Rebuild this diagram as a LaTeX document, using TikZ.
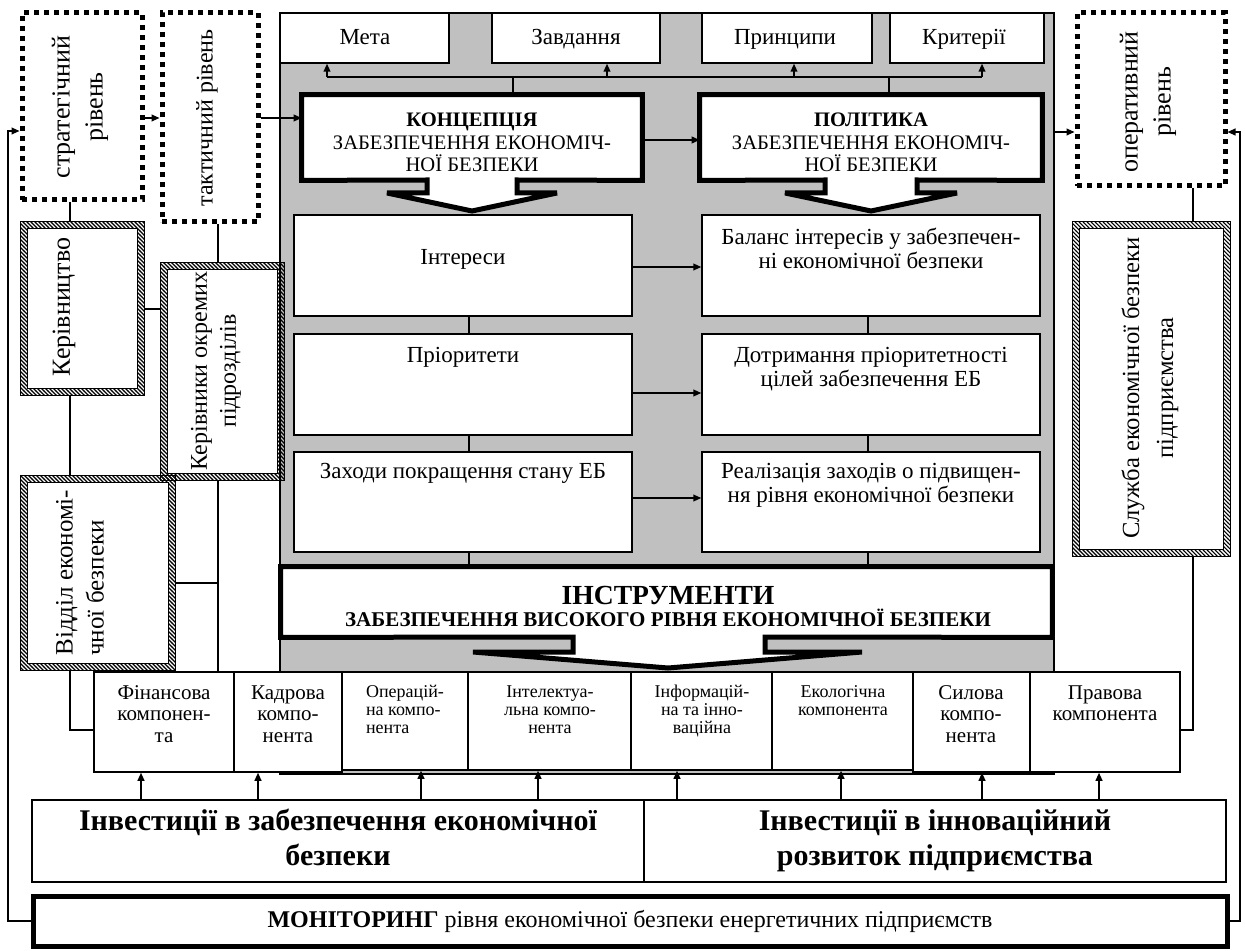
\documentclass[tikz,border=0pt]{standalone}
\usepackage{fontspec}
\setmainfont{Liberation Serif}
\usetikzlibrary{arrows.meta,patterns,fit,calc}
\definecolor{panelgray}{RGB}{192,192,192}
\pgfdeclarepatternformonly{hatchnw}{\pgfqpoint{-1pt}{-1pt}}{\pgfqpoint{3pt}{3pt}}{\pgfqpoint{2pt}{2pt}}{%
  \pgfsetlinewidth{0.55pt}%
  \pgfpathmoveto{\pgfqpoint{0pt}{2pt}}%
  \pgfpathlineto{\pgfqpoint{2.1pt}{-0.1pt}}%
  \pgfusepath{stroke}}
\newcommand{\fsz}[2]{\fontsize{#1}{#2}\selectfont}
\begin{document}
\begin{tikzpicture}[x=0.5pt,y=-0.5pt,
  panel/.style={draw,line width=1.2pt,fill=panelgray,inner sep=0pt},
  wbox/.style={draw,line width=0.75pt,fill=white,inner sep=0pt},
  dotbox/.style={draw,line width=2.5pt,dash pattern=on 2.5pt off 2.5pt,fill=white,inner sep=0pt},
  hatchbox/.style={draw,line width=0.5pt,pattern=hatchnw,inner sep=0pt},
  innerbox/.style={draw,line width=0.5pt,fill=white,inner sep=0pt},
  area/.style={inner sep=0pt},
  heavy/.style={draw,line width=2.5pt,fill=white,line join=miter,miter limit=3},
  ln/.style={line width=0.75pt},
  arr/.style={line width=0.75pt,-{Triangle[length=4pt,width=3.4pt]}},
  toptxt/.style={inner sep=0pt,anchor=base,font=\fsz{11.5}{12}},
  itxt/.style={inner sep=0pt,align=center,anchor=north,font=\fsz{11.5}{12}},
  ctxt/.style={inner sep=0pt,align=center,anchor=north,font=\fsz{10.5}{10.75}},
  stxt/.style={inner sep=0pt,align=center,anchor=north,font=\fsz{9}{9}},
  rtxt/.style={inner sep=0pt,align=center,rotate=90,font=\fsz{12}{16}},
]
\useasboundingbox[fill=white] (0,0) rectangle (1245,951);

% ---------- grey panel ----------
\node[panel,fit={(280,13)(1054,774)}] (panel) {};

% ---------- top boxes ----------
\node[wbox,fit={(280,13)(449,63)}] (meta) {};
\node[toptxt] (meta-t) at (365,45) {Мета};
\node[wbox,fit={(492,13)(660,63)}] (zavd) {};
\node[toptxt] (zavd-t) at (576,45) {Завдання};
\node[wbox,fit={(702,13)(872,63)}] (princ) {};
\node[toptxt] (princ-t) at (785,45) {Принципи};
\node[wbox,fit={(890,13)(1044,63)}] (krit) {};
\node[toptxt] (krit-t) at (964,45) {Критерії};

% ---------- concept / policy ----------
\node[area,fit={(302,95)(642,180)}] (konc) {};
\draw[heavy] (konc.north west) -- (konc.north east) -- (konc.south east) -- (517,180) -- (517,193)
  -- (557,193) -- (472,211) -- (387,193) -- (427,193) -- (427,180) -- (konc.south west) -- cycle;
\node[inner sep=0pt,align=center,font=\fsz{10.3}{11.2}] (konc-t) at ($(konc.center)+(0,5)$)
  {\textbf{КОНЦЕПЦІЯ}\\ЗАБЕЗПЕЧЕННЯ ЕКОНОМІЧ-\\НОЇ БЕЗПЕКИ};

\node[area,fit={(700,95)(1042,180)}] (pol) {};
\draw[heavy] (pol.north west) -- (pol.north east) -- (pol.south east) -- (917,180) -- (917,193)
  -- (957,193) -- (871,211) -- (785,193) -- (825,193) -- (825,180) -- (pol.south west) -- cycle;
\node[inner sep=0pt,align=center,font=\fsz{10.3}{11.2}] (pol-t) at ($(pol.center)+(0,5)$)
  {\textbf{ПОЛІТИКА}\\ЗАБЕЗПЕЧЕННЯ ЕКОНОМІЧ-\\НОЇ БЕЗПЕКИ};

% bus to top boxes
\coordinate (busl) at (327,77);
\coordinate (busr) at (982,77);
\coordinate (b2) at (607,77);
\coordinate (b3) at (794,77);
\coordinate (kc) at (513,95);
\coordinate (pc) at (889,95);
\draw[ln] (busl) -- (busr);
\draw[ln] (kc) -- (kc |- busl);
\draw[ln] (pc) -- (pc |- busl);
\draw[arr] (busl) -- (busl |- meta.south);
\draw[arr] (b2) -- (b2 |- zavd.south);
\draw[arr] (b3) -- (b3 |- princ.south);
\draw[arr] (busr) -- (busr |- krit.south);

% ---------- interest boxes ----------
\node[wbox,fit={(294,215)(632,316)}] (l1) {};
\node[wbox,fit={(294,334)(632,435)}] (l2) {};
\node[wbox,fit={(294,452)(632,552)}] (l3) {};
\node[wbox,fit={(702,215)(1040,316)}] (r1) {};
\node[wbox,fit={(702,334)(1040,435)}] (r2) {};
\node[wbox,fit={(702,452)(1040,552)}] (r3) {};
\node[itxt] (l1-t) at (463,247) {\strut Інтереси};
\node[itxt] (l2-t) at (463,345) {\strut Пріоритети};
\node[itxt] (l3-t) at (463,461) {\strut Заходи покращення стану ЕБ};
\node[itxt] (r1-t) at (871,227) {\strut Баланс інтересів у забезпечен-\\ні економічної безпеки};
\node[itxt] (r2-t) at (871,345) {\strut Дотримання пріоритетності\\цілей забезпечення ЕБ};
\node[itxt] (r3-t) at (871,461) {\strut Реалізація заходів о підвищен-\\ня рівня економічної безпеки};

\coordinate (y267) at (0,267);
\coordinate (y393) at (0,393);
\coordinate (y498) at (0,498);
\draw[arr] (l1.east |- y267) -- (r1.west |- y267);
\draw[arr] (l2.east |- y393) -- (r2.west |- y393);
\draw[arr] (l3.east |- y498) -- (r3.west |- y498);

\coordinate (xl) at (469,0);
\coordinate (xr) at (868,0);

% ---------- instruments ----------
\node[area,fit={(281,567)(1052,637)}] (instr) {};
\draw[heavy] (instr.north west) -- (instr.north east) -- (instr.south east) -- (765,637) -- (765,652)
  -- (862,652) -- (668,668) -- (473,652) -- (573,652) -- (573,637) -- (instr.south west) -- cycle;
\node[inner sep=0pt,align=center,font=\bfseries\fsz{10.5}{11}] (instr-t) at (668,606)
  {{\fsz{13.8}{13}ІНСТРУМЕНТИ}\\ЗАБЕЗПЕЧЕННЯ ВИСОКОГО РІВНЯ ЕКОНОМІЧНОЇ БЕЗПЕКИ};

\draw[ln] (l1.south -| xl) -- (l2.north -| xl);
\draw[ln] (l2.south -| xl) -- (l3.north -| xl);
\draw[ln] (l3.south -| xl) -- (instr.north -| xl);
\draw[ln] (r1.south -| xr) -- (r2.north -| xr);
\draw[ln] (r2.south -| xr) -- (r3.north -| xr);
\draw[ln] (r3.south -| xr) -- (instr.north -| xr);

% ---------- levels ----------
\node[dotbox,fit={(22,13)(142,200)}] (strat) {};
\node[rtxt,font=\fsz{13}{16.5}] (strat-t) at (80,107) {стратегічний\\рівень};
\node[dotbox,fit={(162,13)(258,222)}] (takt) {};
\node[rtxt] (takt-t) at (207,118) {тактичний рівень};
\node[dotbox,fit={(1077,13)(1225,186)}] (oper) {};
\node[rtxt,font=\fsz{13}{16.5}] (oper-t) at (1148,102) {оперативний\\рівень};

\coordinate (y118) at (0,118);
\coordinate (y131) at (0,131);
\coordinate (y132) at (0,132);
\coordinate (y140) at (0,140);
\draw[arr] (strat.east |- y118) -- (takt.west |- y118);
\draw[arr] (takt.east |- y118) -- (konc.west |- y118);
\draw[arr] (konc.east |- y140) -- (pol.west |- y140);
\draw[arr] (panel.east |- y132) -- (oper.west |- y132);

% ---------- management boxes ----------
\coordinate (x70) at (70,0);
\coordinate (x218) at (218,0);
\coordinate (x1193) at (1193,0);
\coordinate (y583) at (0,583);
\coordinate (y730) at (0,730);

\node[hatchbox,fit={(20,222)(144,396)}] (kerivn) {};
\node[innerbox,fit={(27,229)(137,389)}] (kerivn-in) {};
\node[rtxt,font=\fsz{13}{16}] (kerivn-t) at (64,307) {Керівництво};

\node[hatchbox,fit={(160,263)(284,480)}] (kerokr) {};
\node[innerbox,fit={(167,270)(277,473)}] (kerokr-in) {};
\node[rtxt,font=\fsz{12}{14.5}] (kerokr-t) at (216,371) {Керівники окремих\\підрозділів};

\node[hatchbox,fit={(20,475)(175,670)}] (viddil) {};
\node[innerbox,fit={(27,482)(168,663)}] (viddil-in) {};
\node[rtxt,align=left,anchor=west,font=\fsz{12.5}{15.5}] (viddil-t) at (80,656) {Відділ економі-\\чної безпеки};

\node[hatchbox,fit={(1072,222)(1230,556)}] (sluzh) {};
\node[innerbox,fit={(1079,229)(1223,549)}] (sluzh-in) {};
\node[rtxt,font=\fsz{12.3}{17}] (sluzh-t) at (1150,388) {Служба економічної безпеки\\підприємства};

% ---------- components ----------
\node[wbox,fit={(94,672)(234,772)}] (fin) {};
\node[wbox,fit={(234,672)(342,772)}] (kadr) {};
\node[wbox,fit={(342,672)(468,770)}] (operc) {};
\node[wbox,fit={(468,672)(631,770)}] (intel) {};
\node[wbox,fit={(631,672)(772,770)}] (inform) {};
\node[wbox,fit={(772,672)(913,770)}] (ekol) {};
\node[wbox,fit={(913,672)(1030,772)}] (sil) {};
\node[wbox,fit={(1030,672)(1180,772)}] (prav) {};

\node[ctxt] (fin-t) at (164,685) {Фінансова\\компонен-\\та};
\node[ctxt] (kadr-t) at (288,685) {Кадрова\\компо-\\нента};
\node[stxt,align=left] (operc-t) at (405,685) {Операцій-\\на компо-\\нента};
\node[stxt] (intel-t) at (550,685) {Інтелектуа-\\льна компо-\\нента};
\node[stxt] (inform-t) at (702,685) {Інформацій-\\на та інно-\\ваційна};
\node[stxt] (ekol-t) at (843,685) {Екологічна\\компонента};
\node[ctxt] (sil-t) at (971,685) {Силова\\компо-\\нента};
\node[ctxt] (prav-t) at (1105,685) {Правова\\компонента};

% side connectors
\draw[ln] (strat.south -| x70) -- (kerivn.north -| x70);
\draw[ln] (kerivn.south -| x70) -- (viddil.north -| x70);
\draw[ln] (kerivn.east) -- (kerivn.east -| kerokr.west);
\draw[ln] (takt.south -| x218) -- (kerokr.north -| x218);
\draw[ln] (kerokr.south -| x218) -- (fin.north -| x218);
\draw[ln] (viddil.east |- y583) -- (x218 |- y583);
\draw[ln] (viddil.south -| x70) -- (x70 |- y730) -- (fin.west |- y730);
\draw[ln] (oper.south -| x1193) -- (sluzh.north -| x1193);
\draw[ln] (sluzh.south -| x1193) -- (x1193 |- y730) -- (prav.east |- y730);

% ---------- investments ----------
\node[wbox,fit={(32,800)(644,882)}] (inv1) {};
\node[wbox,fit={(644,800)(1226,882)}] (inv2) {};
\node[inner sep=0pt,align=center,anchor=north,font=\bfseries\fsz{15}{17.5}] (inv1-t) at (338,806)
  {\strut Інвестиції в забезпечення економічної\\безпеки};
\node[inner sep=0pt,align=center,anchor=north,font=\bfseries\fsz{15}{17.5}] (inv2-t) at (935,806)
  {\strut Інвестиції в інноваційний\\розвиток підприємства};

\coordinate (a1) at (141,0);
\coordinate (a2) at (258,0);
\coordinate (a3) at (421,0);
\coordinate (a4) at (538,0);
\coordinate (a5) at (677,0);
\coordinate (a6) at (841,0);
\coordinate (a7) at (982,0);
\coordinate (a8) at (1099,0);
\draw[arr] (inv1.north -| a1) -- (fin.south -| a1);
\draw[arr] (inv1.north -| a2) -- (kadr.south -| a2);
\draw[arr] (inv1.north -| a3) -- (operc.south -| a3);
\draw[arr] (inv1.north -| a4) -- (intel.south -| a4);
\draw[arr] (inv2.north -| a5) -- (inform.south -| a5);
\draw[arr] (inv2.north -| a6) -- (ekol.south -| a6);
\draw[arr] (inv2.north -| a7) -- (sil.south -| a7);
\draw[arr] (inv2.north -| a8) -- (prav.south -| a8);

% ---------- monitoring ----------
\node[draw,line width=2.5pt,fill=white,inner sep=0pt,fit={(33,896)(1227,946)}] (mon) {};
\node[inner sep=0pt,font=\fsz{12}{14}] (mon-t) at (mon.center)
  {\textbf{МОНІТОРИНГ} рівня економічної безпеки енергетичних підприємств};

\coordinate (fbl) at (8,0);
\coordinate (fbr) at (1240,0);
\draw[arr] (mon.west) -- (mon.west -| fbl) -- (fbl |- y131) -- (strat.west |- y131);
\draw[arr] (mon.east) -- (mon.east -| fbr) -- (fbr |- y132) -- (oper.east |- y132);
\end{tikzpicture}
\end{document}
